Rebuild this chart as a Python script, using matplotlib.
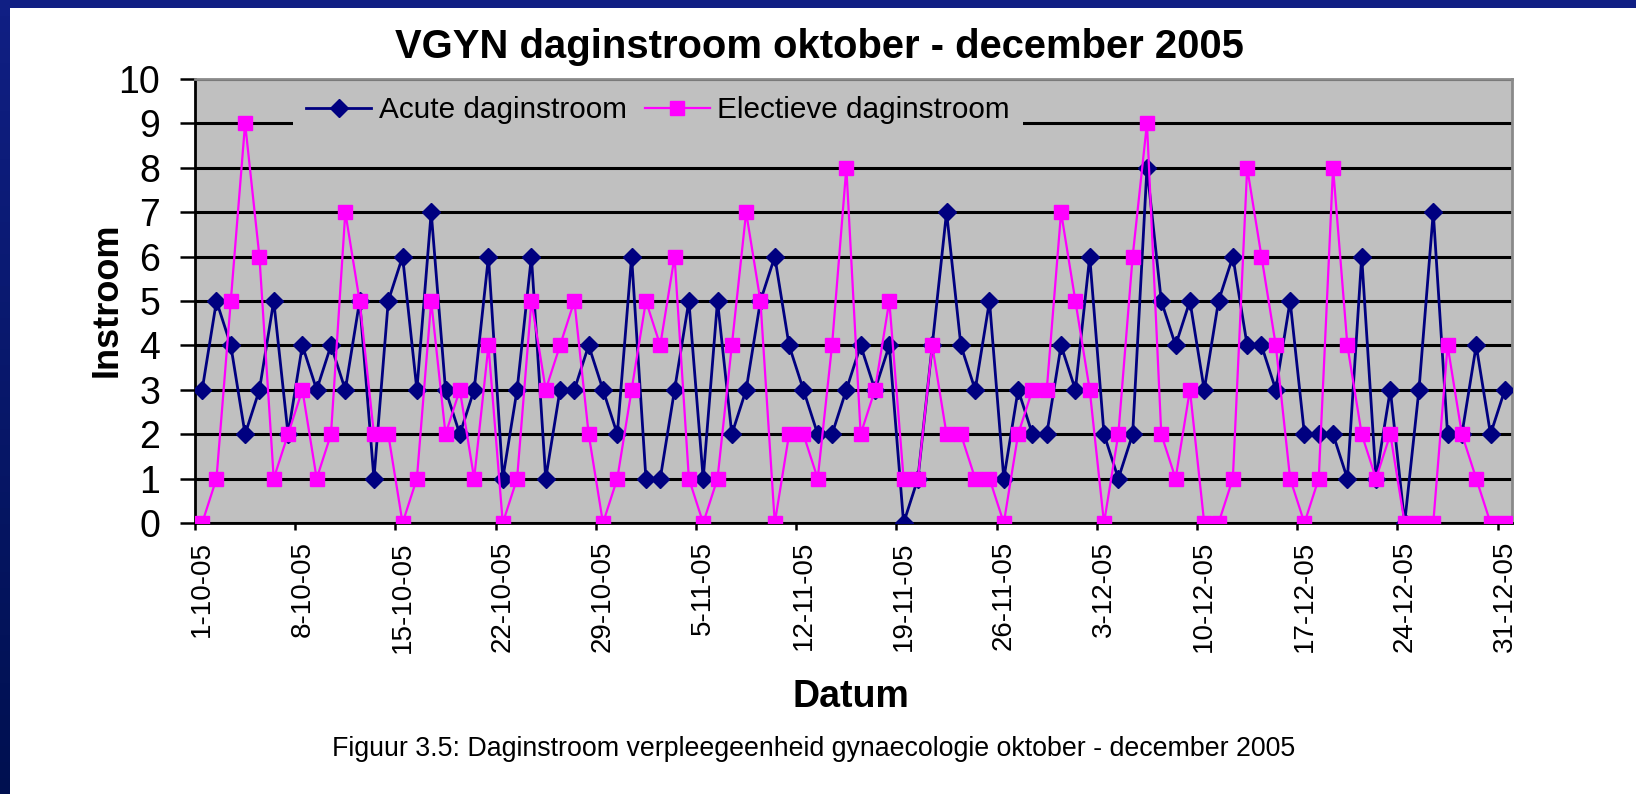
import matplotlib
matplotlib.use('Agg')
import matplotlib.pyplot as plt
import numpy as np

plt.rcParams['font.family'] = ['Liberation Sans', 'DejaVu Sans']

# Dagelijkse instroom 1-10-2005 t/m 31-12-2005 (92 dagen)
acute = [3, 5, 4, 2, 3, 5, 2, 4, 3, 4, 3, 5, 1, 5, 6, 3, 7, 3, 2, 3,
         6, 1, 3, 6, 1, 3, 3, 4, 3, 2, 6, 1, 1, 3, 5, 1, 5, 2, 3, 5,
         6, 4, 3, 2, 2, 3, 4, 3, 4, 0, 1, 4, 7, 4, 3, 5, 1, 3, 2, 2,
         4, 3, 6, 2, 1, 2, 8, 5, 4, 5, 3, 5, 6, 4, 4, 3, 5, 2, 2, 2,
         1, 6, 1, 3, 0, 3, 7, 2, 2, 4, 2, 3]
electief = [0, 1, 5, 9, 6, 1, 2, 3, 1, 2, 7, 5, 2, 2, 0, 1, 5, 2, 3, 1,
            4, 0, 1, 5, 3, 4, 5, 2, 0, 1, 3, 5, 4, 6, 1, 0, 1, 4, 7, 5,
            0, 2, 2, 1, 4, 8, 2, 3, 5, 1, 1, 4, 2, 2, 1, 1, 0, 2, 3, 3,
            7, 5, 3, 0, 2, 6, 9, 2, 1, 3, 0, 0, 1, 8, 6, 4, 1, 0, 1, 8,
            4, 2, 1, 2, 0, 0, 0, 4, 2, 1, 0, 0]
tick_labels = ['1-10-05', '8-10-05', '15-10-05', '22-10-05', '29-10-05',
               '5-11-05', '12-11-05', '19-11-05', '26-11-05', '3-12-05',
               '10-12-05', '17-12-05', '24-12-05', '31-12-05']

W, H = 1636, 794
fig = plt.figure(figsize=(W / 100, H / 100), dpi=100)
fig.patch.set_facecolor('white')

# blauwe rand boven en links
band = fig.add_axes([0, 0, 10 / W, 1])
band.imshow(np.linspace(0, 1, 50).reshape(-1, 1), aspect='auto',
            cmap=matplotlib.colors.LinearSegmentedColormap.from_list('b', ['#101f84', '#001050']))
band.axis('off')
top = fig.add_axes([0, 1 - 8 / H, 1, 8 / H])
top.set_facecolor('#101f84')
top.set_xticks([])
top.set_yticks([])
for s in top.spines.values():
    s.set_visible(False)

ax = fig.add_axes([195 / W, 1 - 523 / H, (1512 - 195) / W, (523 - 79) / H])
ax.set_facecolor('#c0c0c0')

x = np.arange(len(acute))
ax.plot(x, acute, color='#000080', lw=2.0, marker='D', ms=9,
        label='Acute daginstroom', zorder=3)
ax.plot(x, electief, color='#ff00ff', lw=1.6, marker='s', ms=9.5,
        label='Electieve daginstroom', zorder=4)

ax.set_xlim(-0.5, len(acute) - 0.5)
ax.set_ylim(0, 10)
ax.set_yticks(range(11))
ax.tick_params(axis='y', labelsize=27, length=11, width=1.8, pad=14, color='black')
ax.grid(axis='y', color='black', lw=2.2)
ax.set_axisbelow(True)

label_pos = [7 * k for k in range(len(tick_labels))]
ax.set_xticks([p - 0.5 for p in label_pos])
ax.set_xticklabels([])
ax.tick_params(axis='x', which='major', length=5, width=1.8)
ax.set_xticks(label_pos, minor=True)
ax.set_xticklabels(tick_labels, minor=True, rotation=90, fontsize=20)
ax.tick_params(axis='x', which='minor', length=0, pad=13)

for side in ['left', 'bottom']:
    ax.spines[side].set_color('black')
    ax.spines[side].set_linewidth(2.0)
for side in ['top', 'right']:
    ax.spines[side].set_color('#8a8a8a')
    ax.spines[side].set_linewidth(2)

leg = ax.legend(loc='center', bbox_to_anchor=(658 / W, 1 - 110 / H),
                bbox_transform=fig.transFigure, ncol=2, fontsize=21.4,
                frameon=True, facecolor='#c0c0c0', edgecolor='none', framealpha=1,
                fancybox=False, handlelength=2.2, handletextpad=0.25,
                columnspacing=0.6, borderpad=0.45, numpoints=1)

fig.text(819 / W, 1 - 47 / H, 'VGYN daginstroom oktober - december 2005',
         ha='center', va='center', fontsize=28.8, fontweight='bold')
fig.text(107 / W, 1 - 300 / H, 'Instroom', rotation=90, ha='center', va='center',
         fontsize=26, fontweight='bold')
fig.text(851 / W, 1 - 697 / H, 'Datum', ha='center', va='center',
         fontsize=27, fontweight='bold')
fig.text(814 / W, 1 - 749 / H,
         'Figuur 3.5: Daginstroom verpleegeenheid gynaecologie oktober - december 2005',
         ha='center', va='center', fontsize=19.3)

fig.savefig('out.png', dpi=100)
